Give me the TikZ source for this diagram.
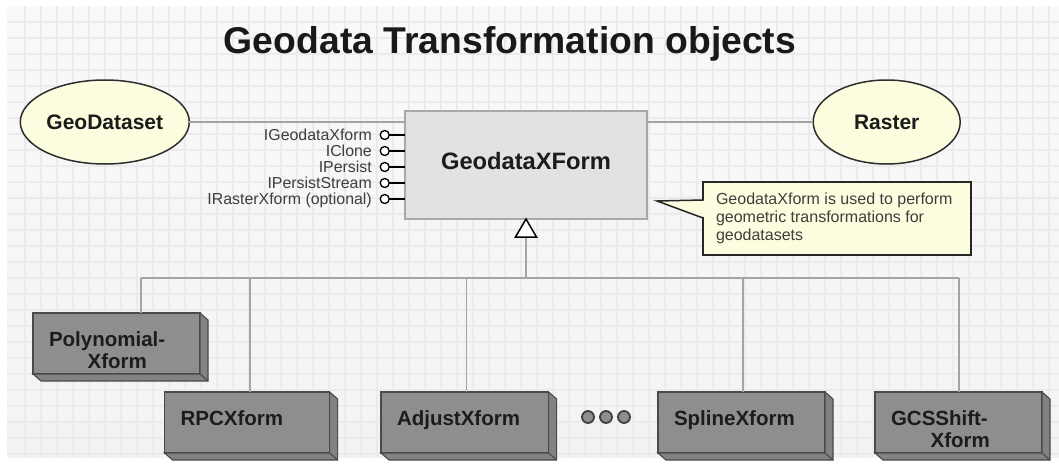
\documentclass[tikz,border=0pt]{standalone}
\usepackage{fontspec}
\setmainfont{Liberation Sans}
\usetikzlibrary{shapes.geometric,calc}
\definecolor{bgtop}{HTML}{F9F9F9}
\definecolor{bgmid}{HTML}{E1E1E1}
\definecolor{bgbot}{HTML}{F3F3F3}
\definecolor{ellfill}{HTML}{FCFCDE}
\definecolor{ellborder}{HTML}{2E2E2E}
\definecolor{boxfill}{HTML}{E2E2E2}
\definecolor{boxborder}{HTML}{A8A8A8}
\definecolor{childfront}{HTML}{8E8E8E}
\definecolor{childside}{HTML}{828282}
\definecolor{childborder}{HTML}{4A4A4A}
\definecolor{conncol}{HTML}{A4A4A4}
\definecolor{txt}{HTML}{1C1C1C}
\pgfdeclarelayer{bg}
\pgfsetlayers{bg,main}
\newcommand{\childtxt}[2]{\parbox[c][61pt][t]{#1}{\leftskip=16pt\relax\rightskip=0pt plus 1fil\parindent=0pt\vspace*{19pt}#2}}
\newcommand{\threed}[1]{%
  \filldraw[sideface] (#1.north east) -- ++(8,7) -- ($(#1.south east)+(8,7)$) -- ($(#1.south west)+(8,7)$) -- (#1.south west) -- (#1.south east) -- cycle;
  \draw[sideface] (#1.south east) -- ++(8,7);}
\tikzset{
  gridline/.style={draw=black!8, line width=1.2pt},
  ell/.style={ellipse, draw=ellborder, line width=1.5pt, fill=ellfill, inner sep=0pt, outer sep=0pt, text=txt, font=\fontsize{21}{24}\selectfont\bfseries},
  conn/.style={draw=conncol, line width=2pt},
  vconn/.style={draw=conncol, line width=1.3pt},
  lolli/.style={circle, draw=black, line width=1.3pt, fill=white, minimum size=9pt, inner sep=0pt, outer sep=0pt},
  stem/.style={draw=black, line width=1.6pt},
  ilabel/.style={inner sep=0pt, text=txt!85, font=\fontsize{15.9}{16}\selectfont},
  childbox/.style={draw=childborder, line width=1.3pt, fill=childfront, inner sep=0pt, outer sep=0pt, anchor=north west, text=txt, font=\fontsize{20.5}{21.5}\selectfont\bfseries},
  sideface/.style={draw=childborder, line width=1.1pt, fill=childside},
  dotc/.style={circle, draw=black!75, line width=1.8pt, fill=childfront, minimum size=12pt, inner sep=0pt},
  notebox/.style={draw=black!85, line width=1.5pt, fill=ellfill, inner sep=0pt, outer sep=0pt, anchor=north west, text=txt!85, font=\fontsize{16}{18}\selectfont},
}
\begin{document}
\begin{tikzpicture}[x=1pt,y=-1pt]
\useasboundingbox (0,0) rectangle (1059,466);
\begin{pgfonlayer}{bg}
  \fill[white] (0,0) rectangle (1059,466);
  \shade[top color=bgtop, middle color=bgmid, bottom color=bgbot] (7,6) rectangle (1059,457);
  \foreach \gx in {25,41,...,1057} \draw[gridline] (\gx,6) -- (\gx,457);
  \foreach \gy in {22,38,...,456} \draw[gridline] (7,\gy) -- (1059,\gy);
\end{pgfonlayer}

% title
\node[anchor=base, inner sep=0pt, text=black!90, font=\fontsize{37.3}{40}\selectfont\bfseries] (title) at (510,53) {Geodata Transformation objects};

% ellipses and main class
\node[ell, minimum width=169pt, minimum height=84pt] (geo) at (104.8,122) {GeoDataset};
\node[ell, minimum width=147pt, minimum height=84pt] (ras) at (886.7,122) {Raster};
\node[draw=boxborder, line width=1.2pt, fill=boxfill, minimum width=242pt, minimum height=108pt, inner sep=0pt, outer sep=0pt, text=txt, font=\fontsize{23.7}{26}\selectfont\bfseries, text depth=9pt] (gx) at (526,165) {GeodataXForm};

\draw[conn] (geo.east) -- (gx.west |- geo.east);
\draw[conn] (gx.east |- ras.west) -- (ras.west);

% interfaces
\foreach \i/\yy/\lab in {1/135/IGeodataXform, 2/151/IClone, 3/167/IPersist, 4/183/IPersistStream, 5/199/IRasterXform (optional)} {
  \node[lolli] (c\i) at (384.7,\yy) {};
  \node[ilabel, anchor=base east] (l\i) at (372,\yy+5.5) {\lab};
  \draw[stem] (c\i.east) -- (gx.west |- c\i.east);
}

% note
\node[notebox, minimum width=268pt, minimum height=73pt] (note) at (703,182) {\parbox[c][73pt][t]{268pt}{\leftskip=13pt\relax\rightskip=0pt plus 1fil\parindent=0pt\vspace*{11.4pt}GeodataXform is used to perform\\geometric transformations for\\geodatasets}};
\coordinate (tip) at (657,201);
\coordinate (pa) at ($(note.north west)+(0,18)$);
\coordinate (pb) at ($(note.north west)+(0,36)$);
\fill[ellfill] ($(pa)+(1.5,0.7)$) -- (tip) -- ($(pb)+(1.5,-0.7)$) -- cycle;
\draw[black!85, line width=1.5pt, line join=miter] (pa) -- (tip) -- (pb);

% inheritance triangle and bus
\coordinate (tbase) at ($(gx.south)+(0,18)$);
\coordinate (busL) at (141,278);
\coordinate (busR) at (959,278);
\draw[conn] (tbase) -- (tbase |- busL);
\draw[conn] (busL) -- (busR);
\filldraw[draw=black, fill=white, line width=1.5pt, line join=miter] (gx.south) -- ($(gx.south)+(10.5,18)$) -- ($(gx.south)+(-10.5,18)$) -- cycle;

% children
\node[childbox] (poly) at (33,313) {\childtxt{167pt}{Polynomial-\\\hspace*{38.6pt}Xform}};
\node[childbox] (rpc) at (164.6,392) {\childtxt{165pt}{RPCXform}};
\node[childbox] (adj) at (381,392) {\childtxt{167.6pt}{AdjustXform}};
\node[childbox] (spl) at (658,392) {\childtxt{167pt}{SplineXform}};
\node[childbox] (gcs) at (875,392) {\childtxt{167pt}{GCSShift-\\\hspace*{39.6pt}Xform}};
\threed{poly}
\threed{rpc}
\threed{adj}
\threed{spl}
\threed{gcs}

\coordinate (b2) at (250,278);
\coordinate (b3) at (466.5,278);
\coordinate (b4) at (743,278);
\draw[vconn] (busL) -- (busL |- poly.north);
\draw[vconn] (b2) -- (b2 |- rpc.north);
\draw[vconn] (b3) -- (b3 |- adj.north);
\draw[vconn] (b4) -- (b4 |- spl.north);
\draw[vconn] (busR) -- (busR |- gcs.north);

% ellipsis dots
\node[dotc] (d1) at (588,417) {};
\node[dotc] (d2) at (606,417) {};
\node[dotc] (d3) at (624,417) {};
\end{tikzpicture}
\end{document}
